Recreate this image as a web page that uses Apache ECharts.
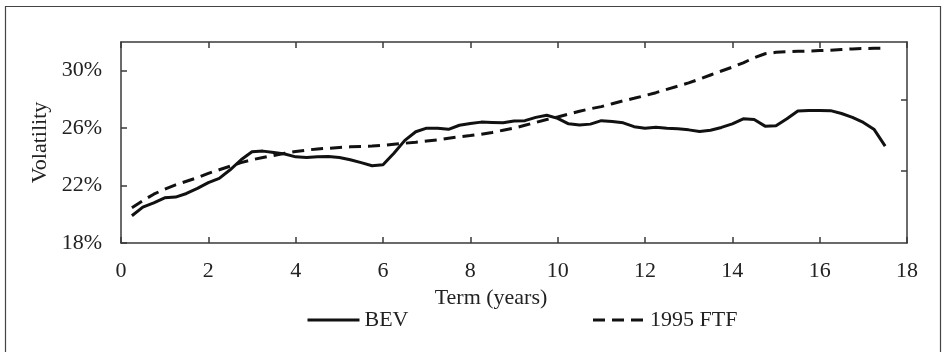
<!DOCTYPE html>
<html>
<head>
<meta charset="utf-8">
<script src="https://cdn.jsdelivr.net/npm/echarts@6/dist/echarts.min.js"></script>
<style>
  html, body { margin: 0; padding: 0; background: #fff; }
  #chart { width: 944px; height: 352px; }
</style>
</head>
<body>
<div id="chart"></div>
<script>
// Term in years (quarterly points)
var terms = [
  0.25, 0.5, 0.75, 1.0, 1.25, 1.5, 1.75, 2.0, 2.25, 2.5, 2.75, 3.0,
  3.25, 3.5, 3.75, 4.0, 4.25, 4.5, 4.75, 5.0, 5.25, 5.5, 5.75, 6.0,
  6.25, 6.5, 6.75, 7.0, 7.25, 7.5, 7.75, 8.0, 8.25, 8.5, 8.75, 9.0,
  9.25, 9.5, 9.75, 10.0, 10.25, 10.5, 10.75, 11.0, 11.25, 11.5, 11.75, 12.0,
  12.25, 12.5, 12.75, 13.0, 13.25, 13.5, 13.75, 14.0, 14.25, 14.5, 14.75, 15.0,
  15.25, 15.5, 15.75, 16.0, 16.25, 16.5, 16.75, 17.0, 17.25, 17.5
];

// Volatility (%) — BEV
var bev = [
  19.9, 20.5, 20.8, 21.15, 21.2, 21.45, 21.8, 22.2, 22.5, 23.1, 23.8, 24.35,
  24.4, 24.3, 24.2, 24.0, 23.95, 24.0, 24.02, 23.95, 23.8, 23.6, 23.38, 23.45,
  24.25, 25.15, 25.75, 26.0, 26.0, 25.92, 26.2, 26.32, 26.42, 26.4, 26.38, 26.5,
  26.52, 26.75, 26.9, 26.68, 26.3, 26.22, 26.28, 26.52, 26.46, 26.37, 26.1, 26.0,
  26.06, 26.0, 25.95, 25.88, 25.77, 25.85, 26.05, 26.3, 26.65, 26.6, 26.14, 26.16,
  26.65, 27.2, 27.23, 27.23, 27.22, 27.02, 26.75, 26.4, 25.9, 24.75
];

// Volatility (%) — 1995 FTF
var ftf = [
  20.45, 20.95, 21.4, 21.75, 22.05, 22.3, 22.55, 22.85, 23.1, 23.35, 23.6, 23.8,
  23.95, 24.1, 24.25, 24.38, 24.47, 24.55, 24.6, 24.65, 24.7, 24.72, 24.75, 24.8,
  24.88, 24.95, 25.02, 25.1, 25.18, 25.3, 25.4, 25.48, 25.58, 25.7, 25.85, 26.0,
  26.2, 26.4, 26.6, 26.78, 26.98, 27.18, 27.35, 27.5, 27.7, 27.9, 28.08, 28.27,
  28.47, 28.7, 28.92, 29.15, 29.42, 29.7, 29.98, 30.25, 30.55, 30.9, 31.18, 31.28,
  31.32, 31.35, 31.37, 31.4, 31.43, 31.48, 31.52, 31.55, 31.56, 31.57
];

var yTicks = [18, 22, 26, 30];
var rightTicks = [5, 10];
var seriesNames = ['BEV', '1995 FTF'];
var xTitle = 'Term (years)';
var yTitle = 'Volatility';

function pairs(xs, ys) {
  return xs.map(function (x, i) { return [x, ys[i]]; });
}

var FONT = "'Liberation Serif', 'Times New Roman', serif";
var INK = '#222';
var FRAME = '#3a3a3a';

var chart = echarts.init(document.getElementById('chart'), null, { renderer: 'canvas' });

chart.setOption({
  animation: false,
  backgroundColor: '#fff',
  textStyle: { fontFamily: FONT, color: INK },
  grid: { left: 121, top: 42, right: 37, bottom: 109, containLabel: false },
  graphic: [{
    type: 'rect',
    shape: { x: 5.5, y: 6.5, width: 935, height: 360 },
    style: { fill: null, stroke: '#444', lineWidth: 1.2 },
    silent: true
  }],
  legend: {
    data: seriesNames,
    left: 306,
    top: 309,
    padding: 0,
    itemWidth: 52,
    itemHeight: 14,
    itemGap: 183,
    itemStyle: { opacity: 0 },
    lineStyle: { width: 3 },
    textStyle: { fontFamily: FONT, fontSize: 22, color: INK }
  },
  xAxis: [{
    type: 'value',
    position: 'bottom',
    min: 0, max: 18, interval: 2,
    name: xTitle,
    nameLocation: 'middle',
    nameGap: 42,
    nameTextStyle: { fontFamily: FONT, fontSize: 22, color: INK, padding: [0, 46, 0, 0] },
    axisLine: { show: true, onZero: false, lineStyle: { color: FRAME, width: 1.5 } },
    axisTick: { show: true, inside: true, length: 6, lineStyle: { color: FRAME, width: 1.5 } },
    axisLabel: { fontFamily: FONT, fontSize: 22, color: INK, margin: 17 },
    splitLine: { show: false }
  }, {
    type: 'value',
    position: 'top',
    min: 0, max: 18, interval: 2,
    axisLine: { show: true, onZero: false, lineStyle: { color: FRAME, width: 1.5 } },
    axisTick: { show: true, inside: true, length: 6, lineStyle: { color: FRAME, width: 1.5 } },
    axisLabel: { show: false },
    splitLine: { show: false }
  }],
  yAxis: [{
    type: 'value',
    position: 'left',
    min: 18, max: 32,
    name: yTitle,
    nameLocation: 'middle',
    nameRotate: 90,
    nameGap: 60,
    nameTextStyle: { fontFamily: FONT, fontSize: 22, color: INK },
    axisLine: { show: true, onZero: false, lineStyle: { color: FRAME, width: 1.5 } },
    axisTick: { show: true, inside: true, length: 6, customValues: yTicks, lineStyle: { color: FRAME, width: 1.5 } },
    axisLabel: { fontFamily: FONT, fontSize: 22, color: INK, margin: 19, customValues: yTicks, formatter: '{value}%' },
    splitLine: { show: false }
  }, {
    type: 'value',
    position: 'right',
    min: 0, max: 14,
    axisLine: { show: true, onZero: false, lineStyle: { color: FRAME, width: 1.5 } },
    axisTick: { show: true, inside: true, length: 6, customValues: rightTicks, lineStyle: { color: FRAME, width: 1.5 } },
    axisLabel: { show: false },
    splitLine: { show: false }
  }],
  series: [{
    name: seriesNames[0],
    type: 'line',
    xAxisIndex: 0,
    yAxisIndex: 0,
    data: pairs(terms, bev),
    symbol: 'none',
    smooth: false,
    lineStyle: { color: '#111', width: 3, type: 'solid' },
    itemStyle: { color: '#111' },
    z: 3
  }, {
    name: seriesNames[1],
    type: 'line',
    xAxisIndex: 0,
    yAxisIndex: 0,
    data: pairs(terms, ftf),
    symbol: 'none',
    smooth: false,
    lineStyle: { color: '#111', width: 3, type: [12, 7], cap: 'butt' },
    itemStyle: { color: '#111' },
    z: 2
  }]
});
</script>
</body>
</html>
